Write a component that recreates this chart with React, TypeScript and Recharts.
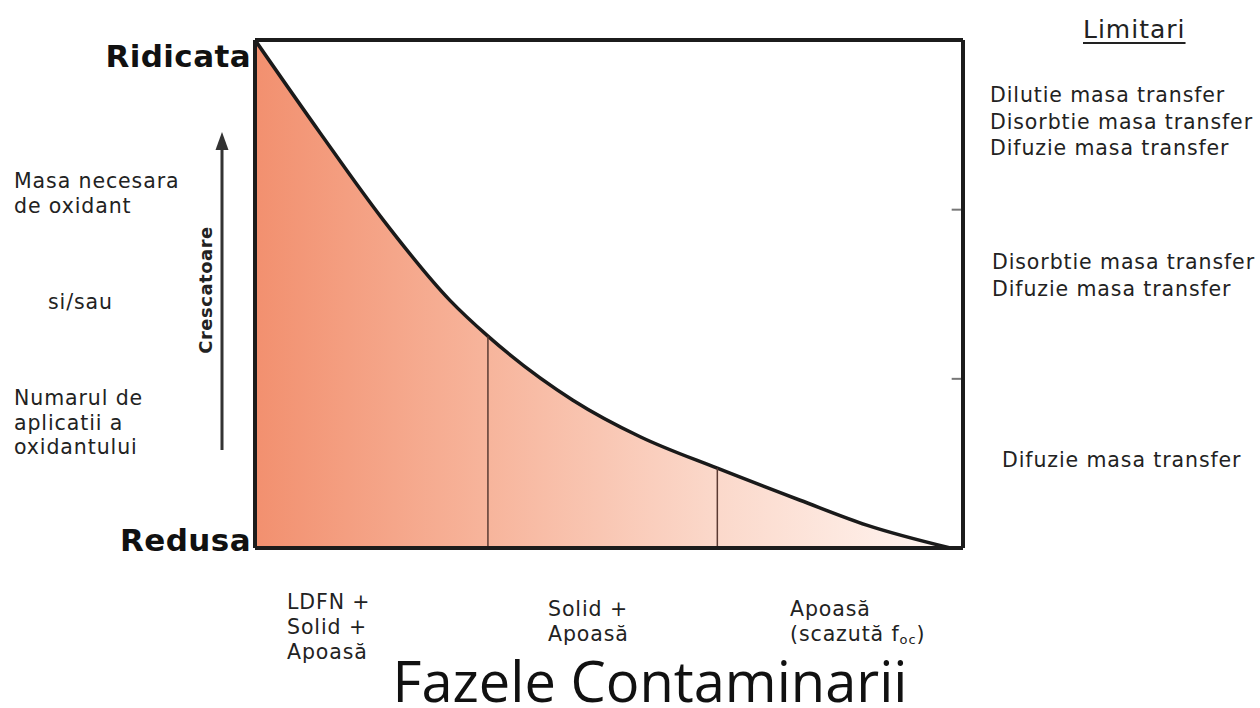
import { AreaChart, Area, XAxis, YAxis, ReferenceLine } from "recharts"

// curve: position along the contamination phases (0-100) vs required oxidant level (0-100)
const phaseX = [0, 9.2, 18.1, 27.5, 32.9, 44.9, 54.4, 65.3, 77.0, 86.4, 98.2]
const level = [100, 81.7, 64.6, 48.8, 41.7, 29.1, 21.9, 15.7, 9.4, 4.5, 0]

// phase boundaries (vertical separators)
const boundaryX = [32.9, 65.3]
const boundaryY = [41.7, 15.7]

const levelTicks = [0, 100]
const levelLabels = ["Redusa", "Ridicata"]
// inner tick marks on the right edge, separating the "Limitari" groups
const limitTicks = [33.3, 66.6]

const phaseLabels = [
  ["LDFN +", "Solid +", "Apoasă"],
  ["Solid +", "Apoasă"],
  ["Apoasă", "(scazută f|oc|)"],
]

const limitGroups = [
  ["Dilutie masa transfer", "Disorbtie masa transfer", "Difuzie masa transfer"],
  ["Disorbtie masa transfer", "Difuzie masa transfer"],
  ["Difuzie masa transfer"],
]

const data = phaseX.map((x, i) => ({ x, y: level[i] }))

const textFont = "'DejaVu Sans', sans-serif"

function LevelTick(props: any) {
  const { x, y, payload } = props
  const idx = levelTicks.indexOf(payload.value)
  const dy = payload.value === 100 ? 27 : 3
  return (
    <text x={x + 4} y={y + dy} textAnchor="end" fontFamily={textFont} fontWeight="bold" fontSize={31} letterSpacing={0.4} fill="#111">
      {levelLabels[idx]}
    </text>
  )
}

function Lines({ lines, left, top, lh, size = 20.5 }: { lines: string[]; left: number; top: number; lh: number; size?: number }) {
  return (
    <div style={{ position: "absolute", left, top, fontFamily: textFont, fontSize: size, letterSpacing: 0.9, lineHeight: `${lh}px`, color: "#222", whiteSpace: "pre" }}>
      {lines.map((l, i) => {
        const parts = l.split("|")
        return (
          <div key={i}>
            {parts[0]}
            {parts[1] && <sub style={{ fontSize: 13, lineHeight: 0, verticalAlign: "-3px" }}>{parts[1]}</sub>}
            {parts[2]}
          </div>
        )
      })}
    </div>
  )
}

export default function App() {
  const phasePos = [
    { left: 287, top: 590 },
    { left: 548, top: 597 },
    { left: 790, top: 597 },
  ]
  const limitPos = [
    { left: 990, top: 82 },
    { left: 992, top: 249 },
    { left: 1002, top: 447 },
  ]
  return (
    <div style={{ position: "absolute", left: 0, top: 0, width: 1260, height: 708, background: "#fff", overflow: "hidden" }}>
      <AreaChart width={1260} height={708} data={data} margin={{ top: 39, right: 296, bottom: 159, left: 254 }}>
        <defs>
          <linearGradient id="phaseFill" x1="0" y1="0" x2="1" y2="0">
            <stop offset="0%" stopColor="#F2906F" />
            <stop offset="33%" stopColor="#F7B49B" />
            <stop offset="66%" stopColor="#FBD8CA" />
            <stop offset="100%" stopColor="#FFF6F2" />
          </linearGradient>
        </defs>
        <XAxis dataKey="x" type="number" domain={[0, 100]} height={1} tick={false} tickLine={false} axisLine={{ stroke: "#1c1c1c", strokeWidth: 4 }} />
        <XAxis xAxisId="top" orientation="top" type="number" domain={[0, 100]} height={1} tick={false} tickLine={false} axisLine={{ stroke: "#1c1c1c", strokeWidth: 4 }} />
        <YAxis type="number" domain={[0, 100]} ticks={levelTicks} width={1} tickLine={false} tick={<LevelTick />} axisLine={{ stroke: "#1c1c1c", strokeWidth: 4 }} />
        <YAxis yAxisId="right" orientation="right" type="number" domain={[0, 100]} width={1} tick={false} tickLine={false} axisLine={{ stroke: "#1c1c1c", strokeWidth: 4 }} />
        <Area type="monotone" dataKey="y" stroke="#1a1a1a" strokeWidth={3.5} fill="url(#phaseFill)" fillOpacity={1} isAnimationActive={false} />
        {boundaryX.map((bx, i) => (
          <ReferenceLine
            key={`b${i}`}
            segment={[
              { x: bx, y: 0 },
              { x: bx, y: boundaryY[i] },
            ]}
            stroke="#5a3a32"
            strokeWidth={1.5}
          />
        ))}
        {limitTicks.map((t, i) => (
          <ReferenceLine
            key={`t${i}`}
            segment={[
              { x: 98.4, y: t },
              { x: 99.8, y: t },
            ]}
            stroke="#777"
            strokeWidth={2}
          />
        ))}
      </AreaChart>

      <Lines lines={["Masa necesara", "de oxidant"]} left={14} top={169} lh={25} />
      <Lines lines={["si/sau"]} left={48} top={290} lh={25} />
      <Lines lines={["Numarul de", "aplicatii a", "oxidantului"]} left={14} top={386} lh={24.5} />

      <div
        style={{
          position: "absolute",
          left: 205,
          top: 290,
          transform: "translate(-50%, -50%) rotate(-90deg)",
          fontFamily: textFont,
          fontWeight: "bold",
          fontSize: 18,
          letterSpacing: 0.5,
          color: "#222",
          whiteSpace: "pre",
        }}
      >
        Crescatoare
      </div>
      <svg style={{ position: "absolute", left: 210, top: 125 }} width={24} height={335}>
        <line x1={12} y1={20} x2={12} y2={325} stroke="#333" strokeWidth={3} />
        <polygon points="12,7 5.5,25 18.5,25" fill="#333" />
      </svg>

      <div style={{ position: "absolute", left: 1083, top: 15, fontFamily: textFont, fontSize: 25, letterSpacing: 1, color: "#222", textDecoration: "underline", textUnderlineOffset: 4 }}>
        Limitari
      </div>
      {limitGroups.map((g, i) => (
        <Lines key={i} lines={g} left={limitPos[i].left} top={limitPos[i].top} lh={26.5} />
      ))}

      {phaseLabels.map((g, i) => (
        <Lines key={i} lines={g} left={phasePos[i].left} top={phasePos[i].top} lh={25} />
      ))}

      <div style={{ position: "absolute", left: 0, width: 1300, top: 652, textAlign: "center", fontFamily: "'Open Sans', sans-serif", fontSize: 56, lineHeight: "56px", color: "#111" }}>
        Fazele Contaminarii
      </div>
    </div>
  )
}
